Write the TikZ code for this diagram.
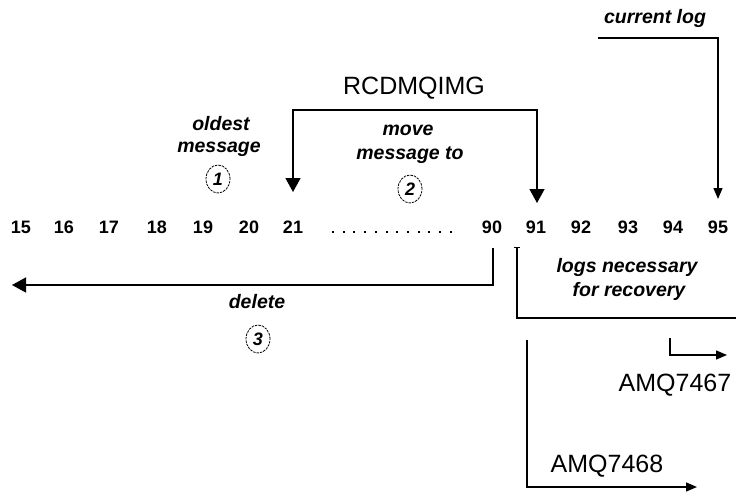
\documentclass[tikz,border=0pt]{standalone}
\usepackage{fontspec}
\setmainfont{Liberation Sans}
\usetikzlibrary{arrows.meta,shapes.geometric}
\tikzset{
  num/.style={font=\fontsize{18}{18}\selectfont\bfseries, inner sep=0pt},
  lab/.style={font=\fontsize{19.5}{21}\selectfont\bfseries\itshape, inner sep=0pt},
  big/.style={font=\fontsize{25}{26}\selectfont, inner sep=0pt},
  ln/.style={line width=1.4pt},
  bigarr/.style={ln, -{Triangle[width=15pt,length=14pt]}},
  smallarr/.style={ln, -{Triangle[width=9pt,length=11pt]}},
  stepcirc/.style={draw, ellipse, line width=0.8pt, dash pattern=on 2.5pt off 1pt, minimum width=24pt, minimum height=28pt, inner sep=0pt, font=\fontsize{18}{18}\selectfont\bfseries\itshape}
}
\begin{document}
\begin{tikzpicture}[x=1pt,y=-1pt]
\useasboundingbox (0,0) rectangle (736,493);
% numbers
\foreach \n/\x in {15/21,16/64,17/109,18/157,19/203,20/249,21/293,90/492,91/536,92/581,93/628,94/673,95/718}
  \node[num] (n\n) at (\x,227) {\n};
\foreach \i in {0,...,11}
  \fill ({332+10.7*\i},231) rectangle ++(2,2);
% current log
\node[lab] (cur) at (655,18) {current log};
\coordinate (c0) at (598,38);
\coordinate (c1) at (718,38);
\coordinate (c2) at (718,199);
\draw[smallarr] (c0) -- (c1) -- (c2);
% RCDMQIMG
\node[big] (rcd) at (414,88) {RCDMQIMG};
\coordinate (r0) at (293,110);
\coordinate (r1) at (537,110);
\coordinate (rl) at (293,192);
\coordinate (rr) at (537,203);
\draw[bigarr] (r1) -- (r0) -- (rl);
\draw[bigarr] (r0) -- (r1) -- (rr);
% oldest message
\node[lab] (old1) at (221,124) {oldest};
\node[lab] (old2) at (219,149) {message};
\node[stepcirc] (s1) at (218,179) {1};
% move message to
\node[lab] (mv1) at (408,130) {move};
\node[lab] (mv2) at (410,155) {message to};
\node[stepcirc] (s2) at (410,189) {2};
% delete
\coordinate (d0) at (493,248);
\coordinate (d1) at (493,285);
\coordinate (d2) at (12,285);
\draw[bigarr] (d0) -- (d1) -- (d2);
\node[lab] (del) at (257,302) {delete};
\node[stepcirc] (s3) at (258,339) {3};
% logs necessary for recovery
\coordinate (l0) at (517,247);
\coordinate (l1) at (517,318);
\coordinate (l2) at (736,318);
\draw[line width=1pt] (514,247) -- (520,247);
\draw[ln] (l0) -- (l1) -- (l2);
\node[lab] (lg1) at (627,267) {logs necessary};
\node[lab] (lg2) at (629,291) {for recovery};
% AMQ7468
\coordinate (a0) at (527,340);
\coordinate (a1) at (527,487);
\coordinate (a2) at (697,487);
\draw[smallarr] (a0) -- (a1) -- (a2);
\node[big] (amq8) at (607,466) {AMQ7468};
% AMQ7467
\coordinate (b0) at (670,338);
\coordinate (b1) at (670,355);
\coordinate (b2) at (727,355);
\draw[smallarr] (b0) -- (b1) -- (b2);
\node[big] (amq7) at (675,385) {AMQ7467};
\end{tikzpicture}
\end{document}
